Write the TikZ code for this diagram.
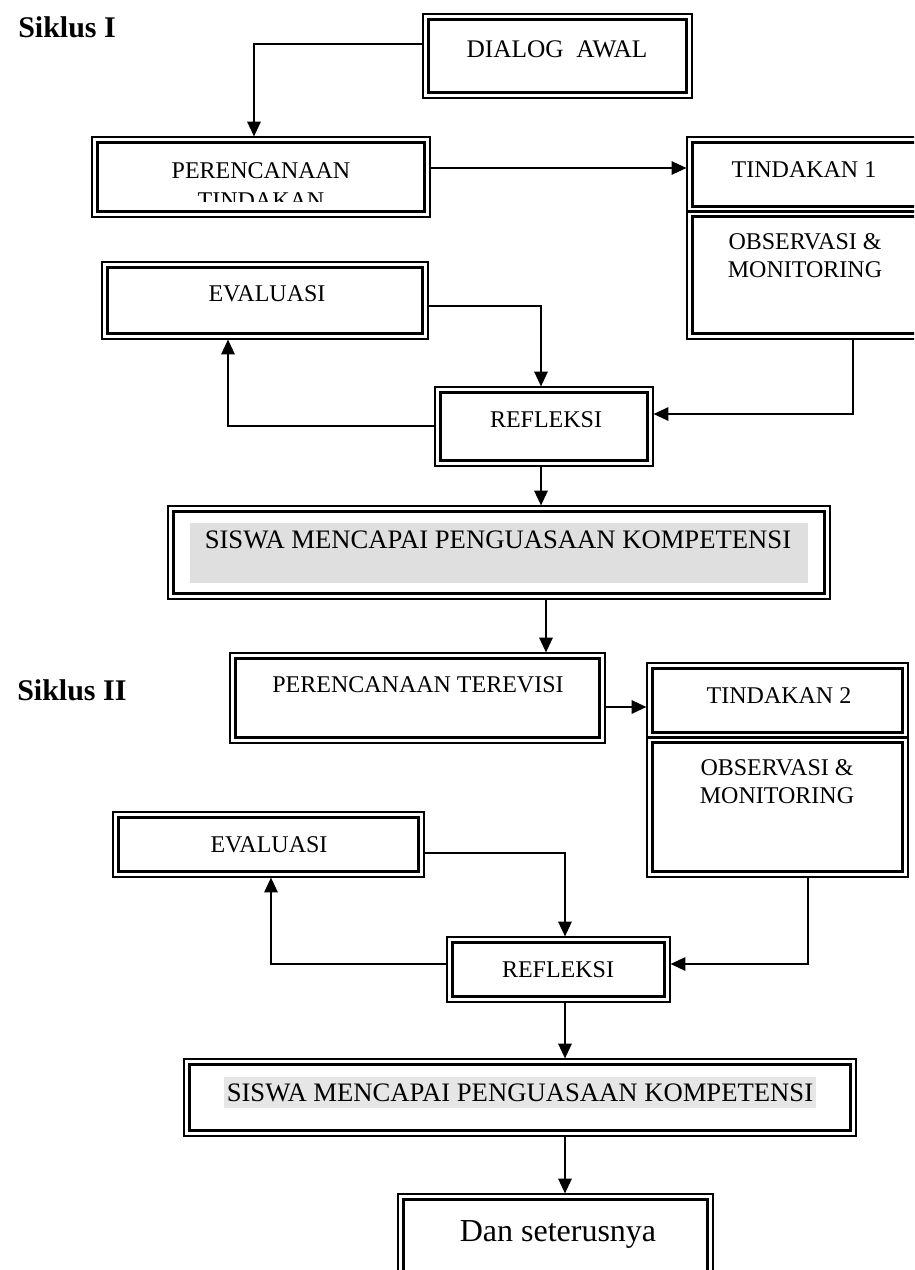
\documentclass[tikz,border=0pt]{standalone}
\usepackage{fontspec}
\setmainfont{Liberation Serif}
\usetikzlibrary{fit,arrows.meta}
\definecolor{shadeA}{HTML}{DFDFDF}
\definecolor{shadeB}{HTML}{E6E6E6}
\tikzset{
  dbox/.style={draw, line width=0.9pt, inner sep=0pt,
    path picture={\draw[line width=2.5pt]
      ([shift={(3.9pt,3.9pt)}]path picture bounding box.south west) rectangle
      ([shift={(-3.9pt,-3.9pt)}]path picture bounding box.north east);}},
  lbl/.style={anchor=base, inner sep=0pt, font=\fontsize{18}{20}\selectfont},
  biglbl/.style={lbl, font=\fontsize{20}{22}\selectfont},
  headlbl/.style={anchor=base west, inner sep=0pt, font=\fontsize{22.5}{24}\selectfont\bfseries},
  arr/.style={line width=1.2pt, -{Triangle[length=11pt,width=10pt]}}
}
\begin{document}
\begin{tikzpicture}[x=0.75pt,y=-0.75pt]
\useasboundingbox (0,0) rectangle (914,1270);
\clip (0,0) rectangle (914,1270);
% gray shading
\fill[shadeA] (190,523) rectangle (808,583);
\fill[shadeB] (224,1077) rectangle (816,1108);
% headings
\node[headlbl] (h1) at (18,38) {Siklus I};
\node[headlbl] (h2) at (17,700) {Siklus II};
% boxes cycle I
\node[dbox, fit={(423,14) (692,98)}, inner sep=0pt] (dialog) {};
\node[dbox, fit={(92,137) (430,217)}, inner sep=0pt] (plan1) {};
\node[dbox, fit={(687,137) (940,212)}, inner sep=0pt] (tind1) {};
\node[dbox, fit={(687,211) (940,339)}, inner sep=0pt] (obs1) {};
\node[dbox, fit={(102,262) (428,339)}, inner sep=0pt] (eval1) {};
\node[dbox, fit={(435,387) (653,466)}, inner sep=0pt] (refl1) {};
\node[dbox, fit={(168,506) (830,599)}, inner sep=0pt] (siswa1) {};
% boxes cycle II
\node[dbox, fit={(230,653) (605,743)}, inner sep=0pt] (plan2) {};
\node[dbox, fit={(647,663) (908,738)}, inner sep=0pt] (tind2) {};
\node[dbox, fit={(647,737) (908,877)}, inner sep=0pt] (obs2) {};
\node[dbox, fit={(113,812) (424,877)}, inner sep=0pt] (eval2) {};
\node[dbox, fit={(447,937) (670,1002)}, inner sep=0pt] (refl2) {};
\node[dbox, fit={(184,1059) (856,1136)}, inner sep=0pt] (siswa2) {};
\node[dbox, fit={(398,1194) (713,1300)}, inner sep=0pt] (dan) {};
% labels
\node[lbl, font=\fontsize{19}{21}\selectfont] (tdialog) at (557,58) {DIALOG\ \ AWAL};
\node[lbl] (tplan1a) at (261,178) {PERENCANAAN};
\begin{scope}
\clip (92,137) rectangle (430,201);
\node[lbl] (tplan1b) at (261,208) {TINDAKAN};
\end{scope}
\node[lbl] (ttind1) at (804,177) {TINDAKAN 1};
\node[lbl] (tobs1a) at (805,249) {OBSERVASI \&};
\node[lbl] (tobs1b) at (805,277) {MONITORING};
\node[lbl] (teval1) at (267,301) {EVALUASI};
\node[lbl] (trefl1) at (546,427) {REFLEKSI};
\node[biglbl] (tsiswa1) at (498,548) {SISWA MENCAPAI PENGUASAAN KOMPETENSI};
\node[lbl] (tplan2) at (418,692) {PERENCANAAN TEREVISI};
\node[lbl] (ttind2) at (779,703) {TINDAKAN 2};
\node[lbl] (tobs2a) at (777,775) {OBSERVASI \&};
\node[lbl] (tobs2b) at (777,803) {MONITORING};
\node[lbl] (teval2) at (269,852) {EVALUASI};
\node[lbl] (trefl2) at (558,977) {REFLEKSI};
\node[biglbl] (tsiswa2) at (520,1101) {SISWA MENCAPAI PENGUASAAN KOMPETENSI};
\node[lbl, font=\fontsize{24}{26}\selectfont] (tdan) at (558,1241) {Dan seterusnya};
% connectors cycle I
\draw[arr] (dialog.west |- 0,44) -| (254,0 |- plan1.north);
\draw[arr] (plan1.east |- 0,168) -- (tind1.west |- 0,168);
\draw[arr] (eval1.east |- 0,306) -| (541,0 |- refl1.north);
\draw[arr] (853,0 |- obs1.south) |- (refl1.east |- 0,414);
\draw[arr] (refl1.west |- 0,426) -| (228,0 |- eval1.south);
\draw[arr] (541,0 |- refl1.south) -- (541,0 |- siswa1.north);
\draw[arr] (546,0 |- siswa1.south) -- (546,0 |- plan2.north);
% connectors cycle II
\draw[arr] (plan2.east |- 0,707) -- (tind2.west |- 0,707);
\draw[arr] (eval2.east |- 0,853) -| (565,0 |- refl2.north);
\draw[arr] (808,0 |- obs2.south) |- (refl2.east |- 0,964);
\draw[arr] (refl2.west |- 0,964) -| (271,0 |- eval2.south);
\draw[arr] (565,0 |- refl2.south) -- (565,0 |- siswa2.north);
\draw[arr] (565,0 |- siswa2.south) -- (565,0 |- dan.north);
\end{tikzpicture}
\end{document}
